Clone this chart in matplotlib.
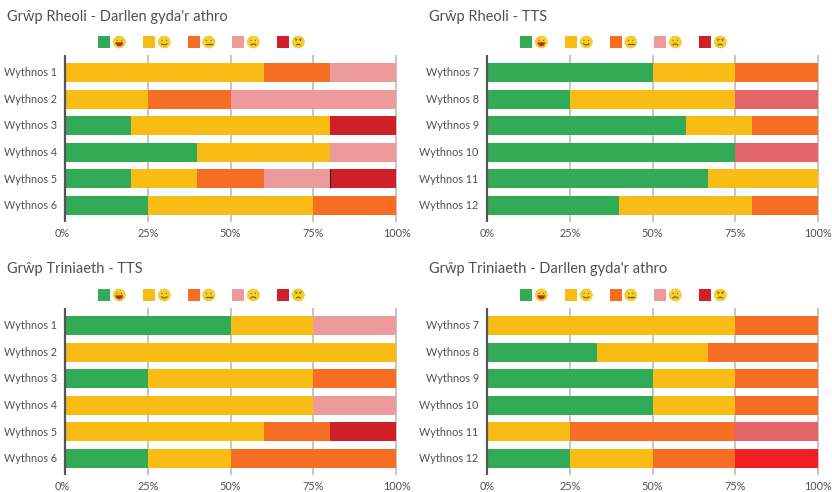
import matplotlib
matplotlib.use("Agg")
import matplotlib.pyplot as plt
from matplotlib.patches import Circle, Rectangle, Arc, Ellipse, Wedge
from matplotlib.lines import Line2D
from matplotlib.transforms import Affine2D, ScaledTranslation

plt.rcParams['font.family'] = ['Lato', 'DejaVu Sans']

GREEN, YELLOW, ORANGE, PINK, RED = '#31AB56', '#F9BC15', '#F56E23', '#EC9A9B', '#CF2027'
ROSE, BRIGHT = '#E26668', '#EF1F24'
TEXT = '#505050'

titles = ["Grŵp Rheoli - Darllen gyda'r athro", "Grŵp Rheoli - TTS",
          "Grŵp Triniaeth - TTS", "Grŵp Triniaeth - Darllen gyda'r athro"]
weeks_a = ["Wythnos 1", "Wythnos 2", "Wythnos 3", "Wythnos 4", "Wythnos 5", "Wythnos 6"]
weeks_b = ["Wythnos 7", "Wythnos 8", "Wythnos 9", "Wythnos 10", "Wythnos 11", "Wythnos 12"]
tick_labels = ["0%", "25%", "50%", "75%", "100%"]
tick_values = [0, 25, 50, 75, 100]

# columns: very happy, happy, neutral, sad, very sad
rheoli_darllen = [[0, 60, 20, 20, 0], [0, 25, 25, 50, 0], [20, 60, 0, 0, 20],
                  [40, 40, 0, 20, 0], [20, 20, 20, 20, 20], [25, 50, 25, 0, 0]]
rheoli_tts = [[50, 25, 25, 0, 0], [25, 50, 0, 25, 0], [60, 20, 20, 0, 0],
              [75, 0, 0, 25, 0], [66.67, 33.33, 0, 0, 0], [40, 40, 20, 0, 0]]
triniaeth_tts = [[50, 25, 0, 25, 0], [0, 100, 0, 0, 0], [25, 50, 25, 0, 0],
                 [0, 75, 0, 25, 0], [0, 60, 20, 0, 20], [25, 25, 50, 0, 0]]
triniaeth_darllen = [[0, 75, 25, 0, 0], [33.33, 33.33, 33.34, 0, 0], [50, 25, 25, 0, 0],
                     [50, 25, 25, 0, 0], [0, 25, 50, 25, 0], [25, 25, 25, 0, 25]]

panels = [rheoli_darllen, rheoli_tts, triniaeth_tts, triniaeth_darllen]
week_sets = [weeks_a, weeks_b, weeks_a, weeks_b]
palettes = [[GREEN, YELLOW, ORANGE, PINK, RED], [GREEN, YELLOW, ORANGE, ROSE, RED],
            [GREEN, YELLOW, ORANGE, PINK, RED], [GREEN, YELLOW, ORANGE, ROSE, BRIGHT]]

W, H = 832, 492
fig = plt.figure(figsize=(W / 100, H / 100), dpi=100, facecolor='white')


def fx(x):
    return x / W


def fy(y):
    return 1 - y / H


def add(p):
    p.set_transform(fig.transFigure)
    fig.add_artist(p)


def face(cx, cy, kind):
    tf = Affine2D().scale(1, -1).translate(0, H)

    def put(a):
        a.set_transform(tf)
        a.set_clip_on(False)
        fig.add_artist(a)

    put(Circle((cx, cy), 6, fc='#F6CF2B', ec='#EDBE1E', lw=0.4))
    dark = '#6A5A28'
    for dx in (-2.2, 2.2):
        put(Ellipse((cx + dx, cy - 1.6), 1.1, 1.4, fc=dark, ec='none'))
    if kind == 0:
        put(Wedge((cx, cy + 0.5), 3.6, 0, 180, fc='#C8202E', ec=dark, lw=0.3))
        put(Rectangle((cx - 2.8, cy + 0.5), 5.6, 0.8, fc='white', ec='none'))
    elif kind == 1:
        put(Arc((cx, cy + 0.4), 6.4, 5, theta1=15, theta2=165, ec=dark, lw=0.8))
    elif kind == 2:
        put(Line2D([cx - 2.8, cx + 2.8], [cy + 2.2, cy + 2.2], color=dark, lw=0.9, transform=tf))
    elif kind == 3:
        put(Arc((cx, cy + 4.2), 5.6, 4.6, theta1=195, theta2=345, ec=dark, lw=0.8))
    else:
        put(Arc((cx, cy + 3.8), 4.4, 3.2, theta1=190, theta2=350, ec=dark, lw=0.8))
        put(Line2D([cx - 3.2, cx - 1.2], [cy - 3.2, cy - 2.4], color=dark, lw=0.6, transform=tf))
        put(Line2D([cx + 3.2, cx + 1.2], [cy - 3.2, cy - 2.4], color=dark, lw=0.6, transform=tf))


swatch_x = [98, 143, 187.5, 232, 277]
legend_colors = [GREEN, YELLOW, ORANGE, PINK, RED]
origins = [(0, 0), (422, 0), (0, 253), (422, 253)]

for i, (ox, oy) in enumerate(origins):
    left, right, top, bottom = 65 + ox, 396 + ox, 55 + oy, 222 + oy
    ax = fig.add_axes([fx(left), fy(bottom), (right - left) / W, (bottom - top) / H])
    ax.set_xlim(0, 100)
    ax.set_ylim(5.62, -0.66)
    ax.set_facecolor('none')
    for s in ax.spines.values():
        s.set_visible(False)
    ax.vlines(tick_values[1:], 5.62, -0.66, color='#BBBBBB', lw=1.2, zorder=1, clip_on=False)
    ax.vlines(0, 5.62, -0.66, color='#555555', lw=1.6, zorder=4, clip_on=False)

    rows = panels[i]
    ypos = list(range(len(rows)))
    lefts = [0] * len(rows)
    for k in range(5):
        vals = [r[k] for r in rows]
        ax.barh(ypos, vals, left=lefts, height=0.714, color=palettes[i][k], lw=0, zorder=2)
        lefts = [a + b for a, b in zip(lefts, vals)]
    if i == 0:
        ax.vlines(80, 3.643, 4.357, color='#222222', lw=0.8, zorder=3)

    ax.set_yticks(ypos)
    ax.set_yticklabels(week_sets[i], fontsize=7.8, color=TEXT)
    ax.set_xticks(tick_values)
    ax.set_xticklabels(tick_labels, fontsize=7.8, color=TEXT)
    ax.tick_params(axis='x', length=0, pad=4)
    ax.tick_params(axis='y', length=0, pad=6)
    nudge = ScaledTranslation(0, 0.8 / 100, fig.dpi_scale_trans)
    for lab in ax.get_yticklabels():
        lab.set_transform(lab.get_transform() + nudge)
    if ox == 0:
        ends = ax.get_xticklabels()
        ends[0].set_transform(ends[0].get_transform() + ScaledTranslation(-2.5 / 100, 0, fig.dpi_scale_trans))
        ends[-1].set_transform(ends[-1].get_transform() + ScaledTranslation(1 / 100, 0, fig.dpi_scale_trans))

    fig.text(fx(7 + ox), fy(16.5 + oy), titles[i], fontsize=10.55, color=TEXT, va='center', ha='left')

    for k, sx in enumerate(swatch_x):
        add(Rectangle((fx(sx + ox), fy(48 + oy)), 12 / W, 12 / H, fc=legend_colors[k], ec='none'))
        face(sx + ox + 21.3, 42 + oy, k)

fig.savefig('out.png', dpi=100)
